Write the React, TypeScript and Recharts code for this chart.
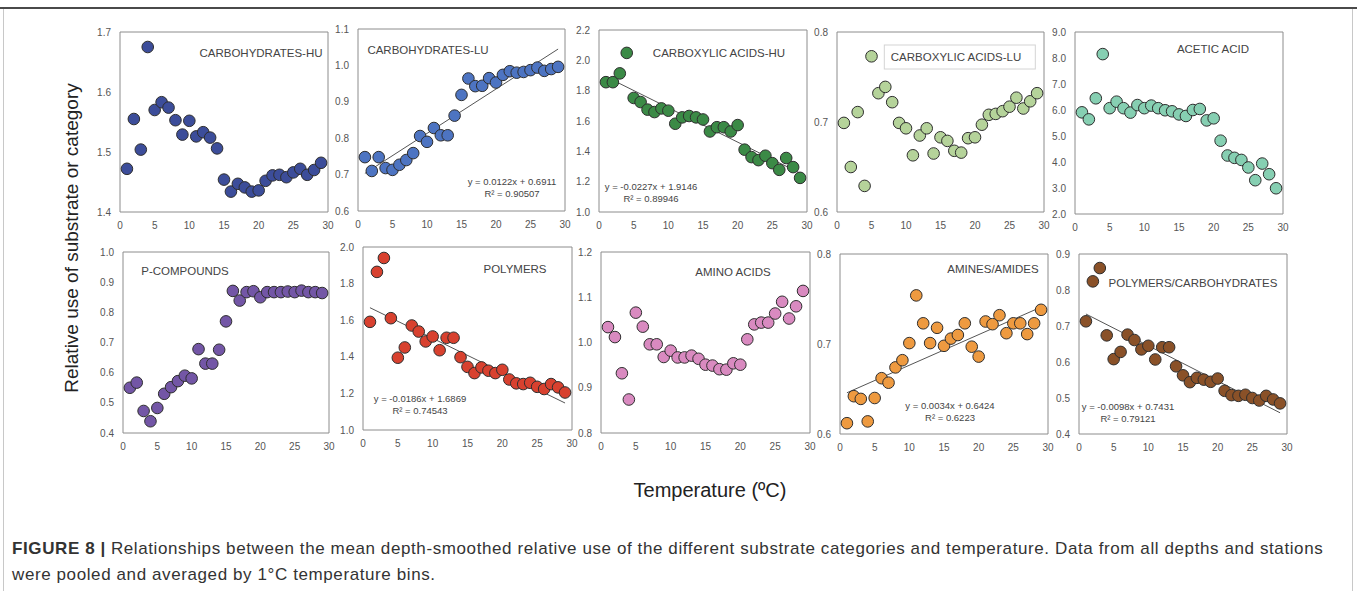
import { ReferenceArea, ReferenceLine, Scatter, ScatterChart, XAxis, YAxis } from "recharts";

// Temperature bins (°C), shared by every panel
const TEMPS = [
  1, 2, 3, 4, 5, 6, 7, 8, 9, 10, 11, 12, 13, 14, 15, 16, 17, 18, 19, 20, 21, 22, 23, 24, 25, 26, 27, 28, 29,
];
const X_TICKS = [0, 5, 10, 15, 20, 25, 30];

// Relative use per temperature bin
const CARB_HU = [1.472, 1.555, 1.504, 1.675, 1.57, 1.583, 1.574, 1.553, 1.529, 1.552, 1.526, 1.533, 1.524, 1.506, 1.454, 1.434, 1.447, 1.441, 1.434, 1.436, 1.452, 1.461, 1.462, 1.458, 1.466, 1.472, 1.462, 1.47, 1.482];
const CARB_LU = [0.748, 0.71, 0.748, 0.718, 0.713, 0.727, 0.74, 0.759, 0.806, 0.79, 0.828, 0.808, 0.808, 0.862, 0.919, 0.964, 0.943, 0.944, 0.965, 0.953, 0.974, 0.984, 0.98, 0.982, 0.987, 0.994, 0.985, 0.99, 0.996];
const CARBOX_HU = [1.856, 1.856, 1.914, 2.049, 1.752, 1.725, 1.675, 1.659, 1.683, 1.668, 1.582, 1.624, 1.633, 1.624, 1.61, 1.531, 1.559, 1.559, 1.531, 1.573, 1.411, 1.362, 1.342, 1.371, 1.322, 1.278, 1.356, 1.296, 1.225];
const CARBOX_LU = [0.699, 0.65, 0.711, 0.629, 0.773, 0.732, 0.739, 0.722, 0.699, 0.693, 0.663, 0.685, 0.693, 0.665, 0.683, 0.679, 0.668, 0.666, 0.682, 0.683, 0.697, 0.708, 0.709, 0.712, 0.717, 0.727, 0.715, 0.723, 0.732];
const ACETIC = [5.91, 5.64, 6.45, 8.15, 6.07, 6.32, 6.07, 5.9, 6.19, 6.07, 6.17, 6.07, 5.99, 5.95, 5.83, 5.77, 6.0, 6.04, 5.6, 5.68, 4.82, 4.25, 4.16, 4.08, 3.79, 3.3, 3.94, 3.53, 2.99];
const P_COMP = [0.55, 0.567, 0.473, 0.439, 0.483, 0.53, 0.552, 0.572, 0.59, 0.581, 0.678, 0.63, 0.63, 0.676, 0.77, 0.871, 0.839, 0.867, 0.87, 0.85, 0.867, 0.867, 0.867, 0.869, 0.867, 0.872, 0.867, 0.867, 0.864];
const POLYMERS = [1.591, 1.864, 1.94, 1.611, 1.395, 1.451, 1.571, 1.538, 1.484, 1.511, 1.436, 1.504, 1.504, 1.398, 1.345, 1.311, 1.342, 1.324, 1.311, 1.329, 1.276, 1.255, 1.251, 1.258, 1.236, 1.224, 1.251, 1.233, 1.205];
const AMINO = [1.034, 1.012, 0.932, 0.874, 1.066, 1.035, 0.996, 0.996, 0.968, 0.982, 0.967, 0.967, 0.971, 0.964, 0.951, 0.949, 0.941, 0.94, 0.954, 0.951, 1.007, 1.04, 1.044, 1.044, 1.064, 1.09, 1.053, 1.08, 1.114];
const AMINES = [0.612, 0.642, 0.639, 0.614, 0.64, 0.662, 0.657, 0.674, 0.682, 0.701, 0.754, 0.723, 0.701, 0.718, 0.698, 0.706, 0.71, 0.723, 0.697, 0.686, 0.725, 0.722, 0.732, 0.712, 0.723, 0.723, 0.711, 0.723, 0.738];
const POLY_CARB = [0.713, 0.824, 0.861, 0.674, 0.608, 0.628, 0.676, 0.661, 0.635, 0.645, 0.607, 0.641, 0.641, 0.588, 0.563, 0.544, 0.556, 0.551, 0.545, 0.554, 0.52, 0.508, 0.506, 0.509, 0.5, 0.493, 0.506, 0.496, 0.485];

// y tick labels per panel
const T_CARB_HU = [1.4, 1.5, 1.6, 1.7];
const T_CARB_LU = [0.6, 0.7, 0.8, 0.9, 1.0, 1.1];
const T_CARBOX_HU = [1.0, 1.2, 1.4, 1.6, 1.8, 2.0, 2.2];
const T_CARBOX_LU = [0.6, 0.7, 0.8];
const T_ACETIC = [2, 3, 4, 5, 6, 7, 8, 9];
const T_P_COMP = [0.4, 0.5, 0.6, 0.7, 0.8, 0.9, 1.0];
const T_POLYMERS = [1.0, 1.2, 1.4, 1.6, 1.8, 2.0];
const T_AMINO = [0.8, 0.9, 1.0, 1.1, 1.2];
const T_AMINES = [0.6, 0.7, 0.8];
const T_POLY_CARB = [0.4, 0.5, 0.6, 0.7, 0.8, 0.9];

// linear fits printed on the panels: [slope, intercept, R²]
const FIT_CARB_LU = [0.0122, 0.6911, "0.90507"] as const;
const FIT_CARBOX_HU = [-0.0227, 1.9146, "0.89946"] as const;
const FIT_POLYMERS = [-0.0186, 1.6869, "0.74543"] as const;
const FIT_AMINES = [0.0034, 0.6424, "0.6223"] as const;
const FIT_POLY_CARB = [-0.0098, 0.7431, "0.79121"] as const;

const FONT = '"Liberation Sans", Arial, Helvetica, sans-serif';
const Y_AXIS_W = 34;
const TOP = 8;
const RIGHT = 6;
const X_AXIS_H = 24;

type Fit = readonly [number, number, string];

interface PanelCfg {
  title: string;
  values: number[];
  ticks: number[];
  color: string;
  // plot rectangle on the page
  x: number;
  y: number;
  w: number;
  h: number;
  titleAt: [number, number];
  boxed?: boolean;
  fit?: Fit;
  fitAt?: [number, number];
}

const PANELS: PanelCfg[] = [
  { title: "CARBOHYDRATES-HU", values: CARB_HU, ticks: T_CARB_HU, color: "#3c4d9a", x: 120, y: 32, w: 208, h: 180, titleAt: [261, 53] },
  { title: "CARBOHYDRATES-LU", values: CARB_LU, ticks: T_CARB_LU, color: "#4d74c2", x: 358, y: 29, w: 207, h: 182, titleAt: [428, 50], fit: FIT_CARB_LU, fitAt: [512, 188] },
  { title: "CARBOXYLIC ACIDS-HU", values: CARBOX_HU, ticks: T_CARBOX_HU, color: "#3b8a46", x: 599, y: 30, w: 208, h: 182, titleAt: [719, 53], fit: FIT_CARBOX_HU, fitAt: [651, 193] },
  { title: "CARBOXYLIC ACIDS-LU", values: CARBOX_LU, ticks: T_CARBOX_LU, color: "#b5d39a", x: 837, y: 32, w: 207, h: 180, titleAt: [960, 57], boxed: true },
  { title: "ACETIC ACID", values: ACETIC, ticks: T_ACETIC, color: "#86cfb2", x: 1075, y: 32, w: 208, h: 182, titleAt: [1213, 49] },
  { title: "P-COMPOUNDS", values: P_COMP, ticks: T_P_COMP, color: "#7356a6", x: 123, y: 252, w: 206, h: 181, titleAt: [185, 271] },
  { title: "POLYMERS", values: POLYMERS, ticks: T_POLYMERS, color: "#d8412f", x: 363, y: 247, w: 209, h: 183, titleAt: [515, 269], fit: FIT_POLYMERS, fitAt: [420, 405] },
  { title: "AMINO ACIDS", values: AMINO, ticks: T_AMINO, color: "#d98ac0", x: 601, y: 252, w: 209, h: 181, titleAt: [733, 272] },
  { title: "AMINES/AMIDES", values: AMINES, ticks: T_AMINES, color: "#ee9a40", x: 840, y: 254, w: 208, h: 180, titleAt: [993, 269], fit: FIT_AMINES, fitAt: [950, 412] },
  { title: "POLYMERS/CARBOHYDRATES", values: POLY_CARB, ticks: T_POLY_CARB, color: "#8a5128", x: 1079, y: 254, w: 208, h: 180, titleAt: [1193, 283], fit: FIT_POLY_CARB, fitAt: [1128, 413] },
];

function fmtEq(fit: Fit) {
  const [m, b] = fit;
  return `y = ${m.toFixed(4)}x + ${b.toFixed(4)}`;
}

function Panel({ p }: { p: PanelCfg }) {
  const data = TEMPS.map((t, i) => ({ t, v: p.values[i] }));
  const lo = p.ticks[0];
  const hi = p.ticks[p.ticks.length - 1];
  const tick = { fontSize: 10, fill: "#555", fontFamily: FONT };
  return (
    <>
      <div style={{ position: "absolute", left: p.x - Y_AXIS_W, top: p.y - TOP }}>
        <ScatterChart
          width={Y_AXIS_W + p.w + RIGHT}
          height={TOP + p.h + X_AXIS_H}
          margin={{ top: TOP, right: RIGHT, bottom: 0, left: 0 }}
        >
          <XAxis
            type="number"
            dataKey="t"
            domain={[0, 30]}
            ticks={X_TICKS}
            interval={0}
            height={X_AXIS_H}
            axisLine={false}
            tickLine={false}
            tickSize={3}
            tickMargin={7}
            tick={tick}
          />
          <YAxis
            type="number"
            dataKey="v"
            domain={[lo, hi]}
            ticks={p.ticks}
            interval={0}
            width={Y_AXIS_W}
            axisLine={false}
            tickLine={false}
            tickSize={3}
            tickMargin={6}
            tick={tick}
            tickFormatter={(v: number) => v.toFixed(1)}
          />
          <ReferenceArea x1={0} x2={30} y1={lo} y2={hi} fill="#fff" fillOpacity={0} stroke="#8c8c8c" strokeWidth={1} />
          {p.fit && (
            <ReferenceLine
              segment={[
                { x: 1, y: p.fit[0] * 1 + p.fit[1] },
                { x: 29, y: p.fit[0] * 29 + p.fit[1] },
              ]}
              stroke="#555"
              strokeWidth={1}
            />
          )}
          <Scatter
            data={data}
            isAnimationActive={false}
            shape={(s: any) => (
              <circle cx={s.cx} cy={s.cy} r={5.8} fill={p.color} stroke="#2e2e2e" strokeWidth={1} />
            )}
          />
        </ScatterChart>
      </div>
      <div
        style={{
          position: "absolute",
          left: p.titleAt[0],
          top: p.titleAt[1],
          transform: "translate(-50%, -50%)",
          fontFamily: FONT,
          fontSize: 11.5,
          color: "#444",
          whiteSpace: "nowrap",
          ...(p.boxed ? { border: "1px solid #d4d4d4", padding: "5px 14px 6px 6px", background: "#fff" } : {}),
        }}
      >
        {p.title}
      </div>
      {p.fit && p.fitAt && (
        <div
          style={{
            position: "absolute",
            left: p.fitAt[0],
            top: p.fitAt[1],
            transform: "translate(-50%, -50%)",
            fontFamily: FONT,
            fontSize: 9.5,
            lineHeight: "12px",
            color: "#444",
            textAlign: "center",
            whiteSpace: "nowrap",
          }}
        >
          <div>{fmtEq(p.fit)}</div>
          <div>R² = {p.fit[2]}</div>
        </div>
      )}
    </>
  );
}

export default function App() {
  return (
    <div style={{ position: "absolute", left: 0, top: 0, width: 1357, height: 591, background: "#fff", overflow: "hidden" }}>
      {/* figure frame */}
      <div style={{ position: "absolute", left: 0, top: 7, width: 1357, height: 2, background: "#4a4a4a" }} />
      <div style={{ position: "absolute", left: 3, top: 9, width: 1348, height: 620, border: "1px solid #c8c8c8", borderTop: "none" }} />

      {PANELS.map((p) => (
        <Panel key={p.title} p={p} />
      ))}

      <div
        style={{
          position: "absolute",
          left: 72,
          top: 238,
          transform: "translate(-50%, -50%) rotate(-90deg)",
          fontFamily: FONT,
          fontSize: 19,
          color: "#222",
          whiteSpace: "nowrap",
        }}
      >
        Relative use of substrate or category
      </div>
      <div
        style={{
          position: "absolute",
          left: 710,
          top: 490,
          transform: "translate(-50%, -50%)",
          fontFamily: FONT,
          fontSize: 20,
          color: "#222",
          whiteSpace: "nowrap",
        }}
      >
        Temperature (ºC)
      </div>

      <div
        style={{
          position: "absolute",
          left: 12,
          top: 536,
          fontFamily: FONT,
          fontSize: 17,
          letterSpacing: 0.6,
          lineHeight: "26px",
          color: "#333",
          whiteSpace: "nowrap",
        }}
      >
        <div>
          <span style={{ fontWeight: "bold", marginRight: 5 }}>FIGURE 8 |</span>
          <span>
            Relationships between the mean depth-smoothed relative use of the different substrate categories and
            temperature. Data from all depths and stations
          </span>
        </div>
        <div>were pooled and averaged by 1°C temperature bins.</div>
      </div>
    </div>
  );
}
